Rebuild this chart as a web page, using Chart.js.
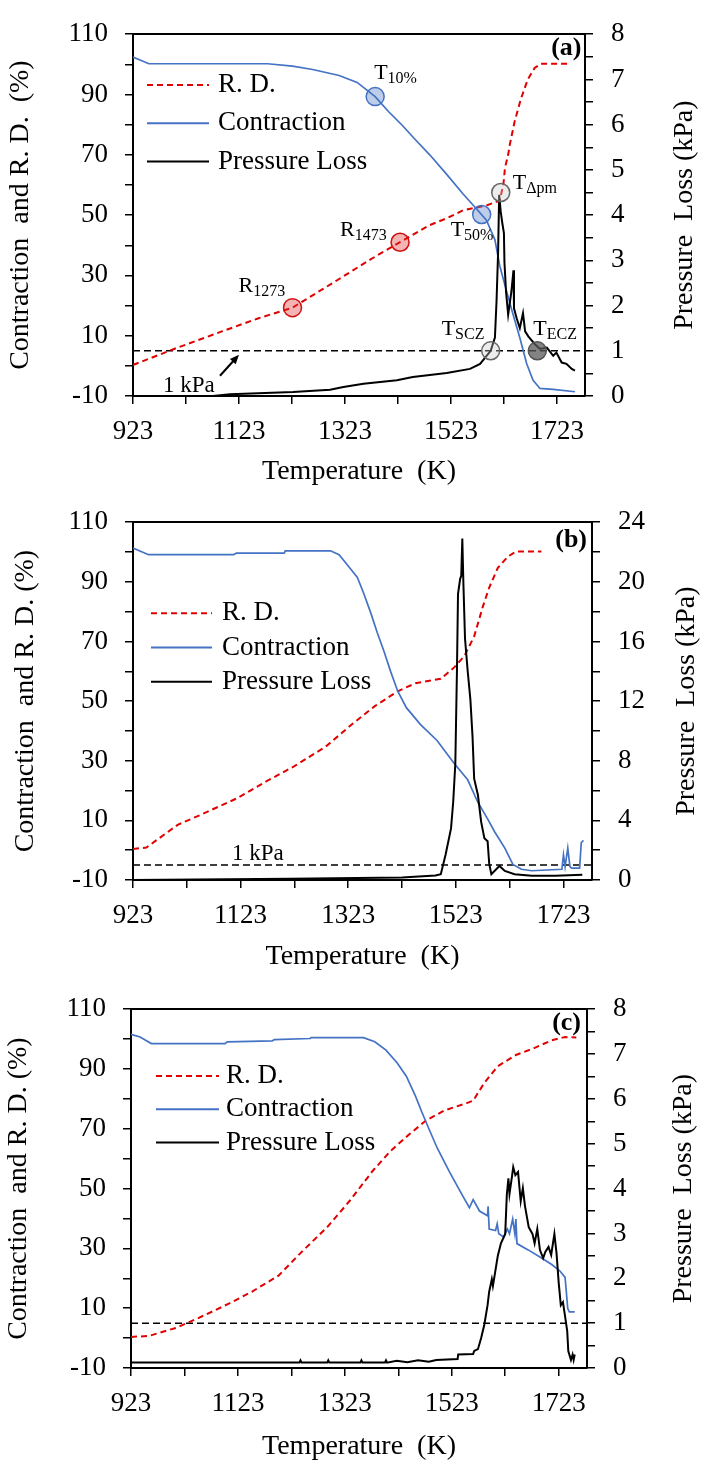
<!DOCTYPE html>
<html>
<head>
<meta charset="utf-8">
<script src="https://cdn.jsdelivr.net/npm/chart.js@4.4.0/dist/chart.umd.min.js"></script>
<style>
  html, body { margin: 0; padding: 0; background: #fff; }
  canvas { display: block; }
</style>
</head>
<body>
<canvas id="chartA" width="702" height="488"></canvas>
<canvas id="chartB" width="702" height="487"></canvas>
<canvas id="chartC" width="702" height="488"></canvas>
<script>
// ---- tick values (shared) ----
const tempTicks = [923, 1023, 1123, 1223, 1323, 1423, 1523, 1623, 1723];
const leftTicks = [-10, 0, 10, 20, 30, 40, 50, 60, 70, 80, 90, 100, 110];
const pressTicks8 = [0, 0.5, 1, 1.5, 2, 2.5, 3, 3.5, 4, 4.5, 5, 5.5, 6, 6.5, 7, 7.5, 8];
const pressTicks24 = [0, 2, 4, 6, 8, 10, 12, 14, 16, 18, 20, 22, 24];

// 1 kPa reference line
const refLineT = [923, 1776];
const refLineP = [1, 1];

// ---- panel (a) ----
const tempContrA = [923, 953, 1177, 1224, 1262, 1312, 1346, 1380, 1406, 1431, 1456, 1483, 1515, 1546, 1571, 1590, 1606, 1615, 1625, 1637, 1653, 1666, 1678, 1691, 1716, 1757];
const contrA = [102.4, 100.2, 100.2, 99.4, 98.3, 96.3, 94.0, 89.3, 84.2, 79.8, 75.0, 70.0, 63.5, 57.0, 52.1, 48.3, 41.8, 33.3, 26.7, 19.0, 9.3, 0.7, -4.8, -7.5, -7.8, -8.6];
const tempRdA = [923, 1008, 1092, 1160, 1224, 1262, 1312, 1372, 1427, 1483, 1516, 1546, 1590, 1615, 1622, 1625, 1631, 1634, 1643, 1655, 1668, 1681, 1693, 1744];
const rdA = [0.3, 6.1, 11.5, 15.8, 19.3, 23.4, 28.8, 35.4, 41.0, 46.7, 49.0, 51.6, 53.2, 54.8, 60.2, 65.7, 70.0, 73.3, 80.9, 88.5, 95.0, 98.8, 100.2, 100.2];
const tempPressA = [923, 1074, 1106, 1225, 1295, 1320, 1358, 1421, 1451, 1515, 1559, 1578, 1598, 1606, 1609, 1612, 1614, 1617, 1620, 1623, 1624, 1627, 1631, 1637, 1641, 1642, 1647, 1653, 1659, 1663, 1669, 1681, 1691, 1704, 1716, 1722, 1732, 1741, 1751, 1757];
const pressA = [0, 0, 0.04, 0.09, 0.14, 0.2, 0.27, 0.35, 0.42, 0.51, 0.6, 0.71, 1.0, 1.29, 2.08, 3.17, 4.45, 4.07, 3.82, 3.6, 2.95, 2.3, 1.8, 2.3, 2.78, 1.94, 1.72, 1.5, 1.83, 1.43, 1.32, 1.15, 1.04, 1.07, 0.89, 0.96, 0.74, 0.71, 0.6, 0.56];
// marked points in (a)
const markBlueT = [1380, 1581];
const markBlueV = [89.3, 50.2];
const markRedT = [1224, 1427];
const markRedV = [19.3, 41.0];
const markGreyT = [1598, 1617];
const markGreyP = [1.0, 4.5];
const markDarkT = [1686];
const markDarkP = [1.0];

// ---- panel (b) ----
const tempContrB = [923, 952, 1110, 1115, 1204, 1206, 1290, 1306, 1323, 1340, 1352, 1365, 1377, 1390, 1402, 1415, 1431, 1457, 1488, 1520, 1545, 1564, 1582, 1595, 1614, 1629, 1645, 1664, 1720, 1723, 1726, 1731, 1735, 1738, 1753, 1756, 1760];
const contrB = [101.3, 99.1, 99.1, 99.6, 99.6, 100.4, 100.4, 99.1, 95.3, 91.5, 86.0, 79.5, 72.9, 66.4, 59.8, 53.3, 47.8, 42.2, 36.8, 29.1, 23.6, 16.0, 10.5, 6.2, 0.7, -4.8, -6.4, -6.9, -6.4, -1.5, -5.5, 0.7, -5.5, -6.0, -6.0, 2.5, 3.3];
const tempRdB = [923, 948, 1006, 1048, 1115, 1173, 1223, 1281, 1331, 1373, 1415, 1448, 1495, 1520, 1539, 1557, 1573, 1585, 1601, 1620, 1635, 1682];
const rdB = [0.4, 0.9, 8.5, 11.8, 17.3, 23.3, 28.2, 34.7, 42.4, 48.4, 53.3, 56.0, 57.5, 61.3, 65.2, 71.7, 81.6, 88.1, 94.7, 98.5, 100.2, 100.2];
const tempPressB = [923, 1215, 1423, 1485, 1495, 1504, 1514, 1518, 1522, 1525, 1527, 1531, 1533, 1535, 1537, 1540, 1545, 1550, 1554, 1557, 1564, 1570, 1576, 1582, 1585, 1589, 1598, 1604, 1614, 1632, 1664, 1708, 1758];
const pressB = [0, 0.09, 0.17, 0.3, 0.39, 1.71, 3.46, 5.2, 7.8, 14.0, 19.2, 20.2, 20.4, 22.9, 19.9, 16.2, 14.0, 12.1, 9.6, 6.8, 5.7, 3.9, 2.8, 2.6, 1.08, 0.39, 0.72, 0.94, 0.61, 0.39, 0.28, 0.28, 0.35];

// ---- panel (c) ----
const tempContrC = [923, 940, 961, 1099, 1103, 1187, 1191, 1258, 1260, 1358, 1379, 1400, 1421, 1438, 1455, 1467, 1480, 1496, 1519, 1544, 1556, 1563, 1575, 1590, 1591, 1593, 1605, 1608, 1611, 1620, 1627, 1631, 1637, 1641, 1643, 1645, 1666, 1691, 1710, 1725, 1735, 1740, 1743, 1753];
const contrC = [101.6, 100.7, 98.5, 98.5, 99.1, 99.4, 99.8, 100.2, 100.5, 100.5, 99.1, 96.3, 92.0, 87.6, 81.0, 75.6, 70.1, 63.5, 55.5, 47.4, 43.6, 46.3, 42.5, 40.9, 44.1, 36.5, 36.0, 38.2, 34.9, 33.8, 36.5, 34.9, 39.8, 34.9, 39.8, 31.6, 29.5, 26.8, 24.6, 22.5, 20.3, 9.9, 8.8, 8.8];
const tempRdC = [923, 956, 1007, 1049, 1107, 1149, 1199, 1241, 1291, 1333, 1375, 1408, 1442, 1475, 1509, 1551, 1563, 1584, 1609, 1643, 1676, 1710, 1735, 1756];
const rdC = [0.4, 0.7, 3.4, 6.7, 11.6, 15.5, 20.9, 28.6, 37.3, 46.1, 55.9, 62.5, 67.9, 72.8, 76.1, 78.6, 79.4, 85.4, 90.9, 94.7, 96.9, 99.6, 100.7, 100.5];
const tempPressC = [923, 1238, 1240, 1242, 1290, 1292, 1294, 1352, 1354, 1356, 1398, 1400, 1402, 1420, 1440, 1460, 1480, 1494, 1534, 1535, 1563, 1565, 1572, 1578, 1584, 1590, 1593, 1598, 1600, 1604, 1609, 1615, 1623, 1626, 1629, 1631, 1636, 1638, 1642, 1647, 1652, 1656, 1660, 1667, 1674, 1678, 1683, 1688, 1694, 1698, 1704, 1709, 1715, 1719, 1723, 1727, 1731, 1735, 1739, 1741, 1746, 1749, 1751, 1753];
const pressC = [0.12, 0.12, 0.17, 0.12, 0.12, 0.17, 0.12, 0.12, 0.17, 0.12, 0.12, 0.17, 0.12, 0.16, 0.13, 0.17, 0.14, 0.18, 0.2, 0.3, 0.31, 0.38, 0.42, 0.67, 0.97, 1.4, 1.7, 1.98, 1.83, 2.12, 2.49, 2.78, 2.99, 3.86, 4.23, 3.88, 4.3, 4.48, 4.3, 4.37, 3.72, 4.01, 3.61, 3.14, 2.99, 2.78, 3.1, 2.63, 2.45, 2.59, 2.7, 2.52, 2.99, 2.56, 1.91, 1.4, 1.47, 1.15, 0.82, 0.38, 0.18, 0.3, 0.18, 0.3];

// ---- styles ----
const FONT = "'Liberation Serif', 'Times New Roman', serif";
const RED = '#e00000';
const BLUE = '#4472c4';
const X_MIN = 923, X_MAX = 1776;

Chart.defaults.font.family = FONT;
Chart.defaults.color = '#000';

function pts(xs, ys) {
    return xs.map((x, i) => ({ x: x, y: ys[i] }));
}

function markerSet(xs, ys, axis, fill, edge) {
    return {
        label: '', data: pts(xs, ys), yAxisID: axis, showLine: false, order: 0,
        pointRadius: 9, pointHoverRadius: 9, pointBackgroundColor: fill,
        pointBorderColor: edge, pointBorderWidth: 1.5, clip: false
    };
}

// tekent legenda, labels bij de punten, paneel letter, rechter as titel en 1 kPa tekst
const overlayPlugin = {
    id: 'overlay',
    afterDatasetsDraw(chart) {
        const cfg = chart.options.plugins.overlay;
        const ctx = chart.ctx;
        const area = chart.chartArea;
        const xs = chart.scales.x;
        ctx.save();

        // legenda
        const lg = cfg.legend;
        chart.data.datasets.filter(d => d.inLegend).forEach((d, i) => {
            const y = lg.y + i * lg.gap;
            ctx.beginPath();
            ctx.setLineDash(d.borderDash || []);
            ctx.strokeStyle = d.borderColor;
            ctx.lineWidth = 2;
            ctx.moveTo(lg.x0, y);
            ctx.lineTo(lg.x1, y);
            ctx.stroke();
            ctx.setLineDash([]);
            ctx.fillStyle = '#000';
            ctx.font = '27px ' + FONT;
            ctx.textAlign = 'left';
            ctx.textBaseline = 'middle';
            ctx.fillText(d.label, lg.tx, y);
        });

        // labels bij gemarkeerde punten
        (cfg.notes || []).forEach(n => {
            const px = xs.getPixelForValue(n.x) + n.dx;
            const py = chart.scales[n.axis].getPixelForValue(n.y) + n.dy;
            ctx.fillStyle = '#000';
            ctx.textAlign = 'left';
            ctx.textBaseline = 'alphabetic';
            ctx.font = '22px ' + FONT;
            ctx.fillText(n.main, px, py);
            const w = ctx.measureText(n.main).width;
            ctx.font = '16px ' + FONT;
            ctx.fillText(n.sub, px + w, py + 4);
        });

        // paneel letter
        ctx.fillStyle = '#000';
        ctx.font = 'bold 26px ' + FONT;
        ctx.textAlign = 'right';
        ctx.textBaseline = 'middle';
        ctx.fillText(cfg.tag, area.right + cfg.tagDx, area.top + cfg.tagDy);

        // rechter as titel, van onder naar boven gelezen
        ctx.save();
        ctx.translate(cfg.rightTitleX, (area.top + area.bottom) / 2);
        ctx.rotate(-Math.PI / 2);
        ctx.font = '28px ' + FONT;
        ctx.textAlign = 'center';
        ctx.textBaseline = 'middle';
        ctx.fillText('Pressure  Loss (kPa)', 0, 0);
        ctx.restore();

        // 1 kPa tekst
        if (cfg.kpa) {
            const k = cfg.kpa;
            const lineY = chart.scales.y1.getPixelForValue(1);
            const ax = xs.getPixelForValue(k.x);
            ctx.font = '23px ' + FONT;
            ctx.textAlign = 'left';
            ctx.textBaseline = 'alphabetic';
            ctx.fillText('1 kPa', ax + k.dx, k.atBottom ? area.bottom + k.dy : lineY + k.dy);
            if (k.arrow) {
                const tipX = ax, tipY = lineY + 4;
                const tailX = tipX - 19, tailY = tipY + 21;
                const ang = Math.atan2(tipY - tailY, tipX - tailX);
                ctx.strokeStyle = '#000';
                ctx.lineWidth = 2;
                ctx.beginPath();
                ctx.moveTo(tailX, tailY);
                ctx.lineTo(tipX - 6 * Math.cos(ang), tipY - 6 * Math.sin(ang));
                ctx.stroke();
                ctx.beginPath();
                ctx.moveTo(tipX, tipY);
                ctx.lineTo(tipX - 10 * Math.cos(ang - 0.4), tipY - 10 * Math.sin(ang - 0.4));
                ctx.lineTo(tipX - 10 * Math.cos(ang + 0.4), tipY - 10 * Math.sin(ang + 0.4));
                ctx.closePath();
                ctx.fill();
            }
        }
        ctx.restore();
    }
};

function makeChart(id, p) {
    const datasets = [
        { label: 'R. D.', inLegend: true, data: pts(p.rdT, p.rdV), yAxisID: 'y', order: 3,
          borderColor: RED, borderDash: [6, 4], borderWidth: 2, pointRadius: 0, tension: 0 },
        { label: 'Contraction', inLegend: true, data: pts(p.contrT, p.contrV), yAxisID: 'y', order: 2,
          borderColor: BLUE, borderWidth: 1.7, pointRadius: 0, tension: 0 },
        { label: 'Pressure Loss', inLegend: true, data: pts(p.pressT, p.pressV), yAxisID: 'y1', order: 1,
          borderColor: '#000', borderWidth: 2, pointRadius: 0, tension: 0 },
        { label: '1 kPa', data: pts(refLineT, refLineP), yAxisID: 'y1', order: 4,
          borderColor: '#000', borderDash: [7, 4], borderWidth: 1.5, pointRadius: 0 }
    ].concat(p.markers || []);

    const tickGrid = { drawOnChartArea: false, drawTicks: true, tickLength: 8, color: '#000', lineWidth: 1.5 };
    const axisBorder = { color: '#000', width: 2 };

    new Chart(document.getElementById(id), {
        type: 'line',
        data: { datasets: datasets },
        options: {
            responsive: false,
            animation: false,
            layout: { padding: 0 },
            plugins: {
                legend: { display: false },
                tooltip: { enabled: false },
                overlay: p.overlay
            },
            scales: {
                x: {
                    type: 'linear', position: 'bottom', min: X_MIN, max: X_MAX,
                    afterFit: s => { s.height = p.height - p.bottom; },
                    afterBuildTicks: s => { s.ticks = tempTicks.map(v => ({ value: v })); },
                    ticks: { autoSkip: false, maxRotation: 0, padding: 12, font: { size: 27 },
                             callback: v => ((v - 923) % 200 === 0 ? String(v) : '') },
                    grid: tickGrid,
                    border: axisBorder,
                    title: { display: true, text: 'Temperature  (K)', font: { size: 28, lineHeight: 1 },
                             padding: { top: 0, bottom: p.xTitlePad } }
                },
                xTop: {
                    type: 'linear', position: 'top', min: X_MIN, max: X_MAX,
                    afterFit: s => { s.height = p.top; },
                    ticks: { display: false },
                    grid: { drawOnChartArea: false, drawTicks: false },
                    border: axisBorder
                },
                y: {
                    type: 'linear', position: 'left', min: -10, max: 110,
                    afterFit: s => { s.width = p.left; },
                    afterBuildTicks: s => { s.ticks = leftTicks.map(v => ({ value: v })); },
                    ticks: { autoSkip: false, padding: 17, font: { size: 27 },
                             callback: v => ((v + 10) % 20 === 0 ? String(v) : '') },
                    grid: tickGrid,
                    border: axisBorder,
                    title: { display: true, text: p.yTitle, font: { size: 28, lineHeight: 1 },
                             padding: { top: p.yTitlePad, bottom: 0 } }
                },
                y1: {
                    type: 'linear', position: 'right', min: 0, max: p.pressMax,
                    afterFit: s => { s.width = 702 - p.right; },
                    afterBuildTicks: s => { s.ticks = p.pressTicks.map(v => ({ value: v })); },
                    ticks: { autoSkip: false, padding: 18, font: { size: 27 },
                             callback: v => (v % p.pressLabelStep === 0 ? String(v) : '') },
                    grid: tickGrid,
                    border: axisBorder,
                    title: { display: false }
                }
            }
        },
        plugins: [overlayPlugin]
    });
}

// paneel (a)
makeChart('chartA', {
    left: 133, right: 585, top: 27, bottom: 396, height: 488,
    pressMax: 8, pressTicks: pressTicks8, pressLabelStep: 1,
    contrT: tempContrA, contrV: contrA, rdT: tempRdA, rdV: rdA, pressT: tempPressA, pressV: pressA,
    yTitle: 'Contraction  and R. D.  (%)', yTitlePad: 7, xTitlePad: 2,
    markers: [
        markerSet(markBlueT, markBlueV, 'y', 'rgba(68,114,196,0.35)', BLUE),
        markerSet(markRedT, markRedV, 'y', 'rgba(224,40,40,0.35)', '#d01010'),
        markerSet(markGreyT, markGreyP, 'y1', 'rgba(200,200,200,0.35)', '#666'),
        markerSet(markDarkT, markDarkP, 'y1', 'rgba(90,90,90,0.75)', '#555')
    ],
    overlay: {
        legend: { x0: 147, x1: 209, tx: 218, y: 85, gap: 38.3 },
        tag: '(a)', tagDx: -3.5, tagDy: 14, rightTitleX: 685,
        kpa: { x: 1123, dx: -76, dy: -4, atBottom: true, arrow: true },
        notes: [
            { axis: 'y', x: markBlueT[0], y: markBlueV[0], main: 'T', sub: '10%', dx: -1, dy: -18 },
            { axis: 'y', x: markBlueT[1], y: markBlueV[1], main: 'T', sub: '50%', dx: -31, dy: 22 },
            { axis: 'y', x: markRedT[0], y: markRedV[0], main: 'R', sub: '1273', dx: -54, dy: -16 },
            { axis: 'y', x: markRedT[1], y: markRedV[1], main: 'R', sub: '1473', dx: -60, dy: -6 },
            { axis: 'y1', x: markGreyT[0], y: markGreyP[0], main: 'T', sub: 'SCZ', dx: -49, dy: -16 },
            { axis: 'y1', x: markGreyT[1], y: markGreyP[1], main: 'T', sub: 'Δpm', dx: 12, dy: -3 },
            { axis: 'y1', x: markDarkT[0], y: markDarkP[0], main: 'T', sub: 'ECZ', dx: -4, dy: -16 }
        ]
    }
});

// paneel (b)
makeChart('chartB', {
    left: 133, right: 592, top: 25, bottom: 392, height: 487,
    pressMax: 24, pressTicks: pressTicks24, pressLabelStep: 4,
    contrT: tempContrB, contrV: contrB, rdT: tempRdB, rdV: rdB, pressT: tempPressB, pressV: pressB,
    yTitle: 'Contraction  and R. D. (%)', yTitlePad: 12, xTitlePad: 4,
    overlay: {
        legend: { x0: 151, x1: 212, tx: 222, y: 125.3, gap: 34.2 },
        tag: '(b)', tagDx: -5, tagDy: 18, rightTitleX: 687,
        kpa: { x: 1107, dx: 0, dy: -5, atBottom: false, arrow: false }
    }
});

// paneel (c)
makeChart('chartC', {
    left: 131, right: 587, top: 26, bottom: 393, height: 488,
    pressMax: 8, pressTicks: pressTicks8, pressLabelStep: 1,
    contrT: tempContrC, contrV: contrC, rdT: tempRdC, rdV: rdC, pressT: tempPressC, pressV: pressC,
    yTitle: 'Contraction  and R. D. (%)', yTitlePad: 5, xTitlePad: 2,
    overlay: {
        legend: { x0: 156, x1: 219, tx: 226, y: 101, gap: 33.3 },
        tag: '(c)', tagDx: -6, tagDy: 14, rightTitleX: 684
    }
});
</script>
</body>
</html>
